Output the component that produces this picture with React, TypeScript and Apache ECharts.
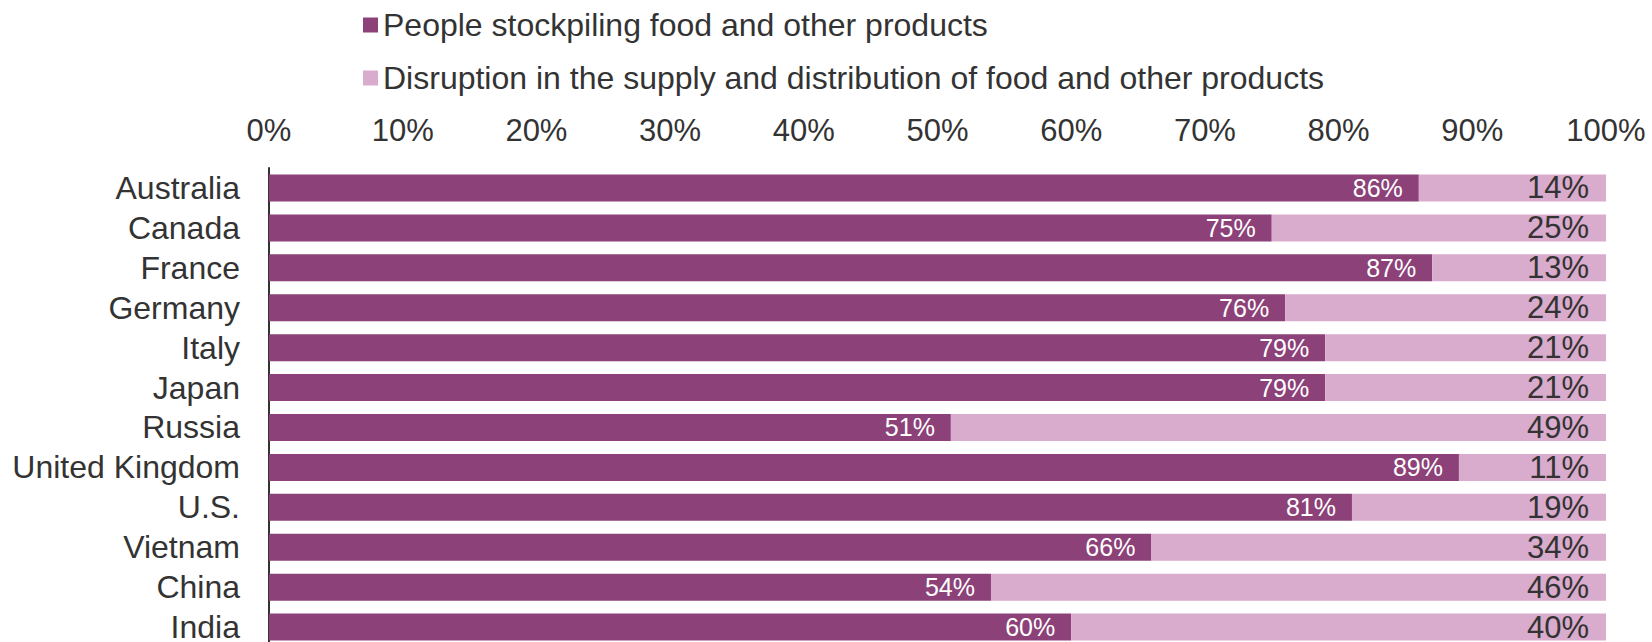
import React, { useEffect, useRef } from "react";
import * as echarts from "echarts";

const categories = [
  "Australia",
  "Canada",
  "France",
  "Germany",
  "Italy",
  "Japan",
  "Russia",
  "United Kingdom",
  "U.S.",
  "Vietnam",
  "China",
  "India",
];
const stockpiling = [86, 75, 87, 76, 79, 79, 51, 89, 81, 66, 54, 60];
const disruption = [14, 25, 13, 24, 21, 21, 49, 11, 19, 34, 46, 40];
const seriesNames = [
  "People stockpiling food and other products",
  "Disruption in the supply and distribution of food and other products",
];

const FONT = "'Liberation Sans', Arial, sans-serif";
const TEXT = "#333333";

export default function App() {
  const ref = useRef<HTMLDivElement>(null);
  useEffect(() => {
    if (!ref.current) return;
    const chart = echarts.init(ref.current, undefined, { renderer: "svg" });
    chart.setOption({
      animation: false,
      backgroundColor: "#ffffff",
      textStyle: { fontFamily: FONT },
      legend: {
        orient: "vertical",
        left: 358,
        top: 4,
        itemWidth: 15,
        itemHeight: 15,
        itemGap: 21,
        icon: "rect",
        textStyle: {
          fontFamily: FONT,
          fontSize: 32,
          color: TEXT,
          lineHeight: 32,
        },
        data: seriesNames,
      },
      grid: {
        left: 269,
        right: 46,
        top: 168,
        height: 479,
        containLabel: false,
      },
      xAxis: {
        type: "value",
        position: "top",
        min: 0,
        max: 100,
        interval: 10,
        axisLine: { show: false },
        axisTick: { show: false },
        splitLine: { show: false },
        axisLabel: {
          formatter: "{value}%",
          fontFamily: FONT,
          fontSize: 31,
          color: TEXT,
          margin: 22,
        },
      },
      yAxis: {
        type: "category",
        inverse: true,
        data: categories,
        axisLine: { show: true, lineStyle: { color: "#333333", width: 2 } },
        axisTick: { show: false },
        axisLabel: {
          interval: 0,
          fontFamily: FONT,
          fontSize: 32,
          color: TEXT,
          margin: 29,
        },
      },
      series: [
        {
          name: seriesNames[0],
          type: "bar",
          stack: "total",
          barWidth: 27,
          data: stockpiling,
          itemStyle: { color: "#8C4178" },
          label: {
            show: true,
            position: "insideRight",
            distance: 16,
            formatter: "{c}%",
            fontFamily: FONT,
            fontSize: 25,
            color: "#ffffff",
          },
        },
        {
          name: seriesNames[1],
          type: "bar",
          stack: "total",
          barWidth: 27,
          data: disruption,
          itemStyle: { color: "#D9ABCC" },
          label: {
            show: true,
            position: "insideRight",
            distance: 17,
            formatter: "{c}%",
            fontFamily: FONT,
            fontSize: 31,
            color: TEXT,
          },
        },
      ],
    });
    return () => chart.dispose();
  }, []);
  return (
    <div
      ref={ref}
      style={{ position: "fixed", left: 0, top: 0, width: 1652, height: 670 }}
    />
  );
}
